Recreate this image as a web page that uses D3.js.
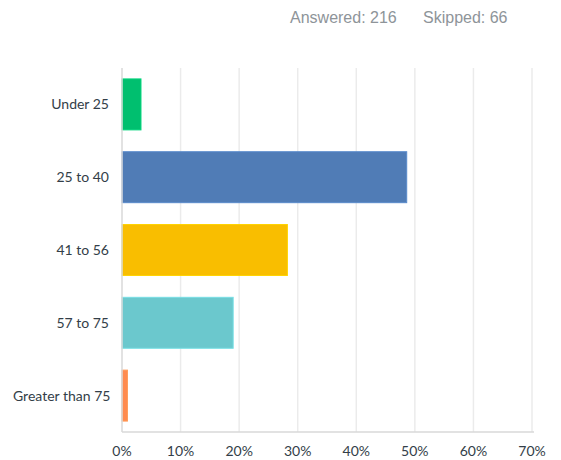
<!DOCTYPE html>
<html>
<head>
<meta charset="utf-8">
<script src="https://cdn.jsdelivr.net/npm/d3@7"></script>
<style>
  body { margin: 0; background: #fff; }
  svg { display: block; font-family: Lato, "Open Sans", sans-serif; }
</style>
</head>
<body>
<div id="chart"></div>
<script>
// age group responses, share of answered
const categories = ["Under 25", "25 to 40", "41 to 56", "57 to 75", "Greater than 75"];
const percents = [0.0324, 0.4861, 0.2824, 0.1898, 0.0093];
const colours = ["#00bf6f", "#507cb6", "#f9be00", "#6bc8cd", "#ff8b4f"];
const tickValues = [0, 0.1, 0.2, 0.3, 0.4, 0.5, 0.6, 0.7];
const answered = 216, skipped = 66;

const width = 561, height = 460;
const margin = {top: 68, right: 29, bottom: 28, left: 122};

const svg = d3.select("#chart").append("svg")
    .attr("width", width)
    .attr("height", height);

// header text
svg.append("text")
    .attr("x", 290).attr("y", 23)
    .attr("fill", "#8e9499")
    .style("font-family", "'Liberation Sans', Arial, sans-serif")
    .style("font-size", "16px")
    .text("Answered: " + answered);
svg.append("text")
    .attr("x", 423).attr("y", 23)
    .attr("fill", "#8e9499")
    .style("font-family", "'Liberation Sans', Arial, sans-serif")
    .style("font-size", "16px")
    .text("Skipped: " + skipped);

let x = d3.scaleLinear()
    .domain([0, 0.7])
    .range([margin.left, 532]);

let y = d3.scaleBand()
    .domain(categories)
    .range([margin.top, height - margin.bottom])
    .paddingInner(0.3)
    .paddingOuter(0.15);

// grid lines
svg.append("g")
    .selectAll("line")
    .data(tickValues.slice(1))
    .enter()
    .append("line")
    .attr("x1", d => x(d)).attr("x2", d => x(d))
    .attr("y1", margin.top).attr("y2", height - margin.bottom)
    .attr("stroke", "#ebebeb")
    .attr("stroke-width", 1.5);

// bars
svg.selectAll("rect.bar")
    .data(categories)
    .enter()
    .append("rect")
    .attr("class", "bar")
    .attr("x", x(0))
    .attr("y", d => y(d))
    .attr("width", (d, i) => x(percents[i]) - x(0))
    .attr("height", y.bandwidth())
    .attr("fill", (d, i) => colours[i])
    .attr("stroke", (d, i) => d3.color(colours[i]).brighter(0.3))
    .attr("stroke-width", 1);

// axis lines
svg.append("line")
    .attr("x1", x(0)).attr("x2", x(0))
    .attr("y1", margin.top).attr("y2", height - margin.bottom)
    .attr("stroke", "#d9d9d9").attr("stroke-width", 1.5);
svg.append("line")
    .attr("x1", x(0)).attr("x2", x(0.7) + 2)
    .attr("y1", height - margin.bottom).attr("y2", height - margin.bottom)
    .attr("stroke", "#d9d9d9").attr("stroke-width", 1.5);

// category labels, right aligned but long ones kept inside the left edge
svg.selectAll("text.cat")
    .data(categories)
    .enter()
    .append("text")
    .attr("class", "cat")
    .attr("x", 109)
    .attr("y", d => y(d) + y.bandwidth() / 2)
    .attr("dy", "0.35em")
    .attr("text-anchor", "end")
    .attr("fill", "#333e48")
    .style("font-size", "14px")
    .text(d => d)
    .each(function() {
        let w = this.getComputedTextLength();
        if (109 - w < 13) {
            d3.select(this).attr("text-anchor", "start").attr("x", 13);
        }
    });

// x tick labels
svg.selectAll("text.tick")
    .data(tickValues)
    .enter()
    .append("text")
    .attr("class", "tick")
    .attr("x", d => x(d))
    .attr("y", 456)
    .attr("text-anchor", "middle")
    .attr("fill", "#333e48")
    .style("font-size", "14px")
    .text(d => d3.format(".0%")(d));
</script>
</body>
</html>
